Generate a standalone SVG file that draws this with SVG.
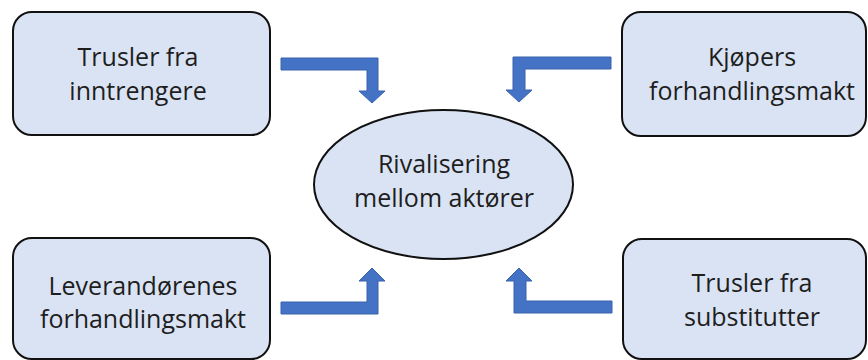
<svg xmlns="http://www.w3.org/2000/svg" width="868" height="360" viewBox="0 0 868 360">
<style>
.box{fill:#DAE3F3;stroke:#111;stroke-width:2}
.lbl{font-family:"Open Sans","Liberation Sans",sans-serif;font-size:25px;fill:#1e1e1e;text-anchor:middle}
.arr{fill:#4472C4;stroke:#3A62AD;stroke-width:1}
</style>
<rect width="868" height="360" fill="#fff"/>
<g id="connectors">
<path class="arr" d="M281,58 L378,58 L378,91 L385,91 L372,103 L359,91 L367,91 L367,70 L281,70 Z"/>
<path class="arr" d="M611,57 L513,57 L513,90 L506,90 L519,102 L532,90 L525,90 L525,69 L611,69 Z"/>
<path class="arr" d="M281,314 L378,314 L378,281 L385,281 L372,268 L359,281 L367,281 L367,302 L281,302 Z"/>
<path class="arr" d="M612,313 L514,313 L514,281 L506,281 L519,268 L532,281 L526,281 L526,301 L612,301 Z"/>
</g>
<g id="node-inntrengere">
<rect class="box" x="13" y="12" width="257" height="123" rx="19"/>
<text class="lbl" x="138" y="66">Trusler fra</text>
<text class="lbl" x="138" y="100">inntrengere</text>
</g>
<g id="node-kjopers">
<rect class="box" x="622" y="12" width="244" height="124" rx="19"/>
<text class="lbl" x="752" y="66">Kjøpers</text>
<text class="lbl" x="752" y="100">forhandlingsmakt</text>
</g>
<g id="node-leverandorer">
<rect class="box" x="13" y="238" width="257" height="121" rx="19"/>
<text class="lbl" x="143" y="295">Leverandørenes</text>
<text class="lbl" x="143" y="328">forhandlingsmakt</text>
</g>
<g id="node-substitutter">
<rect class="box" x="623" y="239" width="243" height="120" rx="19"/>
<text class="lbl" x="752" y="292">Trusler fra</text>
<text class="lbl" x="752" y="326">substitutter</text>
</g>
<g id="node-rivalisering">
<ellipse class="box" cx="443.5" cy="184.5" rx="129.5" ry="74.5"/>
<text class="lbl" x="444" y="173">Rivalisering</text>
<text class="lbl" x="444" y="207">mellom aktører</text>
</g>
</svg>
